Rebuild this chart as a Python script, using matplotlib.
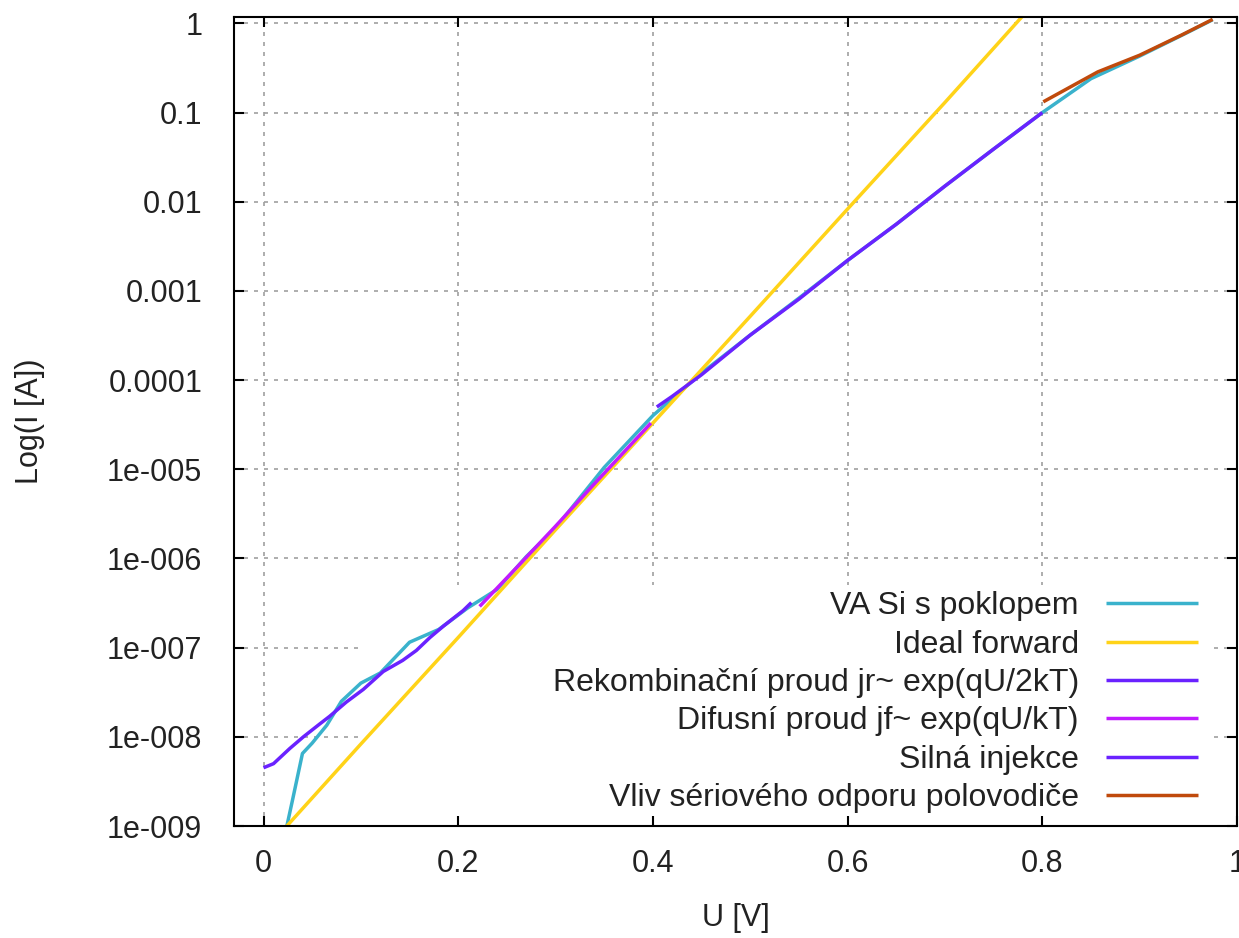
import matplotlib
matplotlib.use("Agg")
import matplotlib.pyplot as plt
from matplotlib.patches import Rectangle

plt.rcParams['font.family'] = ['Liberation Sans', 'DejaVu Sans']

# ---- data ----
va_u = [0.024, 0.030, 0.040, 0.050, 0.065, 0.080, 0.100, 0.120, 0.150, 0.180,
        0.210, 0.240, 0.270, 0.300, 0.350, 0.400, 0.450, 0.500, 0.550, 0.600,
        0.650, 0.700, 0.750, 0.800, 0.850, 0.900, 0.950, 0.975]
va_i = [1.0e-9, 2.0e-9, 6.5e-9, 8.5e-9, 1.35e-8, 2.5e-8, 4.0e-8, 5.2e-8, 1.15e-7, 1.6e-7,
        2.8e-7, 4.5e-7, 1.05e-6, 2.2e-6, 1.05e-5, 4.0e-5, 1.2e-4, 3.2e-4, 8.3e-4, 2.2e-3,
        5.6e-3, 1.5e-2, 3.9e-2, 0.1, 0.24, 0.43, 0.8, 1.1]

ideal_u = [0.024, 0.1, 0.2, 0.3, 0.4, 0.5, 0.6, 0.7, 0.785]
ideal_i = [1.0e-9, 8.3e-9, 1.3e-7, 2.1e-6, 3.3e-5, 5.2e-4, 8.3e-3, 0.13, 1.4]

rek_u = [0.0, 0.0103, 0.027, 0.041, 0.058, 0.068, 0.085, 0.1025, 0.123, 0.143,
         0.157, 0.171, 0.185, 0.205, 0.2135]
rek_i = [4.5e-9, 5.0e-9, 7.4e-9, 1.0e-8, 1.4e-8, 1.7e-8, 2.45e-8, 3.4e-8, 5.4e-8, 7.2e-8,
         9.3e-8, 1.3e-7, 1.75e-7, 2.6e-7, 3.2e-7]

dif_u = [0.222, 0.26, 0.30, 0.34, 0.37, 0.398]
dif_i = [2.9e-7, 7.9e-7, 2.3e-6, 6.9e-6, 1.55e-5, 3.3e-5]

sil_u = [0.404, 0.42, 0.45, 0.5, 0.55, 0.6, 0.65, 0.7, 0.75, 0.8]
sil_i = [5.0e-5, 6.6e-5, 1.15e-4, 3.2e-4, 8.1e-4, 2.2e-3, 5.6e-3, 1.5e-2, 3.9e-2, 0.1]

ser_u = [0.801, 0.857, 0.9, 0.943, 0.975]
ser_i = [0.132, 0.286, 0.44, 0.74, 1.11]

labels = ["VA Si s poklopem", "Ideal forward",
          "Rekombinační proud jr~ exp(qU/2kT)", "Difusní proud jf~ exp(qU/kT)",
          "Silná injekce", "Vliv sériového odporu polovodiče"]
colors = ["#3ab2cc", "#ffd318", "#6a22ff", "#c21aff", "#6a22ff", "#c04a0c"]

x_ticks = [0, 0.2, 0.4, 0.6, 0.8, 1]
x_ticklabels = ["0", "0.2", "0.4", "0.6", "0.8", "1"]
y_ticks = [1, 0.1, 0.01, 0.001, 0.0001, 1e-5, 1e-6, 1e-7, 1e-8, 1e-9]
y_ticklabels = ["1", "0.1", "0.01", "0.001", "0.0001", "1e-005", "1e-006",
                "1e-007", "1e-008", "1e-009"]

# ---- figure ----
W, H = 1239, 938
fig = plt.figure(figsize=(W / 100, H / 100), dpi=100)
left, right, top, bottom = 234.3, 1237.0, 17.0, 826.0
ax = fig.add_axes([left / W, 1 - bottom / H, (right - left) / W, (bottom - top) / H])

ax.set_yscale('log')
ax.set_xlim(-0.03, 1.0)
ax.set_ylim(1e-9, 1.18)

FS = 22
LFS = 23

# grid drawn manually below an opaque key box
grid_kw = dict(color='#a0a0a0', lw=1.2, linestyle=(0, (2.4, 3.6)), zorder=0.5)
for xt in x_ticks:
    ax.axvline(xt, **grid_kw)
for yt in y_ticks:
    ax.axhline(yt, **grid_kw)

key_box = Rectangle((0.125, 0.0), 0.851, 0.298, transform=ax.transAxes,
                    facecolor='white', edgecolor='none', zorder=1)
ax.add_patch(key_box)

series = [(va_u, va_i), (ideal_u, ideal_i), (rek_u, rek_i),
          (dif_u, dif_i), (sil_u, sil_i), (ser_u, ser_i)]
handles = []
for (u, i), lab, c in zip(series, labels, colors):
    h, = ax.plot(u, i, color=c, lw=2.5, label=lab, zorder=2,
                 solid_joinstyle='round', solid_capstyle='butt')
    handles.append(h)

ax.set_xticks(x_ticks)
ax.set_xticklabels(x_ticklabels)
ax.set_yticks(y_ticks)
ax.set_yticklabels(y_ticklabels)
ax.minorticks_off()
ax.tick_params(axis='both', which='major', direction='in', length=7, width=1.5,
               top=True, right=True, labelsize=FS, colors='black')
ax.tick_params(axis='x', pad=16.5)
ax.tick_params(axis='y', pad=23)
for t in ax.get_xticklabels() + ax.get_yticklabels():
    t.set_color('#222222')
for s in ax.spines.values():
    s.set_linewidth(1.5)
    s.set_zorder(3)

ax.set_xlabel("U [V]", fontsize=FS, color='#222222')
ax.xaxis.set_label_coords(0.5, (938 - 918 - (938 - bottom)) / (bottom - top))
ax.xaxis.label.set_verticalalignment('center')
ax.set_ylabel("Log(I [A])", fontsize=FS, color='#222222')
ax.yaxis.set_label_coords((30 - left) / (right - left), 0.5)
ax.yaxis.label.set_verticalalignment('center')

leg = ax.legend(handles=handles, loc='lower right',
                bbox_to_anchor=((1198 - left) / (right - left), (bottom - 813) / (bottom - top)),
                frameon=False, fontsize=LFS, markerfirst=False, borderpad=0,
                borderaxespad=0, handlelength=2.88, handletextpad=0.85,
                labelspacing=0.26)
leg.set_zorder(4)
for t in leg.get_texts():
    t.set_color('#222222')

fig.savefig("out.png", dpi=100)
